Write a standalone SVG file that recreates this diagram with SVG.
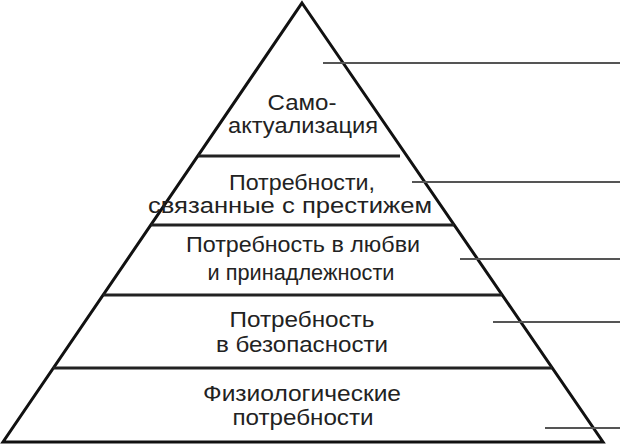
<svg xmlns="http://www.w3.org/2000/svg" width="624" height="446" viewBox="0 0 624 446">
<style>
.edge{fill:none;stroke:#111;stroke-width:3;stroke-linejoin:miter}
.tier{stroke:#222;stroke-width:3}
.lead{stroke:#555;stroke-width:2}
text{font-family:"Liberation Sans",Arial,sans-serif;font-size:22px;fill:#222;text-anchor:middle}
</style>
<rect width="624" height="446" fill="#fff"/>
<g id="pyramid">
<polygon class="edge" points="302,3 603,442 3,442"/>
</g>
<g id="tier-lines">
<line class="tier" x1="198" y1="156" x2="400" y2="156"/>
<line class="tier" x1="151" y1="225" x2="454" y2="225"/>
<line class="tier" x1="103" y1="295" x2="502" y2="295"/>
<line class="tier" x1="53" y1="368" x2="552" y2="368"/>
</g>
<g id="self-actualization">
<text x="302" y="110" textLength="69" lengthAdjust="spacingAndGlyphs">Само-</text>
<text x="303" y="133" textLength="150" lengthAdjust="spacingAndGlyphs">актуализация</text>
</g>
<g id="esteem">
<text x="302" y="190" textLength="146" lengthAdjust="spacingAndGlyphs">Потребности,</text>
<text x="290" y="213" textLength="284" lengthAdjust="spacingAndGlyphs">связанные с престижем</text>
</g>
<g id="love">
<text x="303" y="252" textLength="234" lengthAdjust="spacingAndGlyphs">Потребность в любви</text>
<text x="301" y="280" textLength="187" lengthAdjust="spacingAndGlyphs">и принадлежности</text>
</g>
<g id="safety">
<text x="302" y="327" textLength="145" lengthAdjust="spacingAndGlyphs">Потребность</text>
<text x="302" y="352" textLength="172" lengthAdjust="spacingAndGlyphs">в безопасности</text>
</g>
<g id="physiological">
<text x="302" y="401" textLength="198" lengthAdjust="spacingAndGlyphs">Физиологические</text>
<text x="303" y="425" textLength="141" lengthAdjust="spacingAndGlyphs">потребности</text>
</g>
<g id="connectors">
<line class="lead" x1="323" y1="63" x2="620" y2="63"/>
<line class="lead" x1="412" y1="182" x2="620" y2="182"/>
<line class="lead" x1="460" y1="259" x2="620" y2="259"/>
<line class="lead" x1="493" y1="322" x2="620" y2="322"/>
<line class="lead" x1="545" y1="428" x2="620" y2="428"/>
</g>
</svg>
